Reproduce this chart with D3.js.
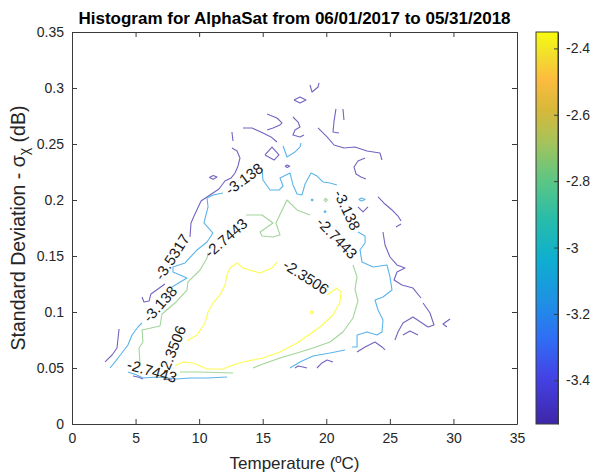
<!DOCTYPE html>
<html><head><meta charset="utf-8">
<script src="https://cdn.jsdelivr.net/npm/d3@7"></script>
<style>
html,body{margin:0;padding:0;background:#fff;}
svg{display:block;font-family:"Liberation Sans",Arial,Helvetica,sans-serif;}
</style></head><body>
<svg id="chart" width="591" height="473"></svg>
<script>
// ---------------- data ----------------
const titleText = "Histogram for AlphaSat from 06/01/2017 to 05/31/2018";
const xLabelText = "Temperature (ºC)";
const xTicks = [0, 5, 10, 15, 20, 25, 30, 35];
const yTicks = [0, 0.05, 0.1, 0.15, 0.2, 0.25, 0.3, 0.35];
const cbTicks = [-3.4, -3.2, -3, -2.8, -2.6, -2.4];
const levels = [-3.5317, -3.138, -2.7443, -2.3506];
const colorRange = [-3.5317, -2.3506];

// contour polylines [temperature, std] per level
const contour_m35317 = [
  [[2.60,0.0554],[3.15,0.0616],[3.54,0.0679],[3.70,0.0848]],
  [[5.51,0.1134],[5.66,0.1089],[6.06,0.1098],[6.21,0.1161],[6.76,0.1205],[7.31,0.1250]],
  [[9.28,0.1670],[9.36,0.1795],[9.60,0.1857],[10.15,0.1991],[10.85,0.2045],[11.56,0.2098],[12.03,0.2170],[12.51,0.2196],[12.82,0.2241],[13.06,0.2304],[13.21,0.2375],[12.98,0.2438],[12.58,0.2464]],
  [[12.58,0.2607],[12.66,0.2527]],
  [[10.80,0.2201],[11.11,0.2219],[11.40,0.2205],[11.11,0.2185],[10.80,0.2201]],
  [[13.45,0.2643],[14.16,0.2643],[15.02,0.2598],[15.65,0.2563],[16.12,0.2518]],
  [[15.34,0.2768],[16.12,0.2732],[16.52,0.2688],[16.36,0.2670],[15.81,0.2643],[15.34,0.2625]],
  [[15.18,0.2402],[15.73,0.2473],[16.28,0.2402],[15.89,0.2357],[15.18,0.2402]],
  [[16.75,0.2301],[16.93,0.2313],[17.12,0.2301],[16.93,0.2290],[16.75,0.2301]],
  [[17.38,0.2741],[17.78,0.2696],[17.93,0.2652],[17.54,0.2625],[17.38,0.2580],[17.93,0.2563],[18.25,0.2580]],
  [[17.46,0.2893],[17.93,0.2920],[18.40,0.2893],[17.93,0.2866],[17.46,0.2893]],
  [[18.72,0.3027],[18.88,0.2964],[19.35,0.3009],[19.43,0.3045]],
  [[20.76,0.2813],[20.61,0.2705],[20.53,0.2607],[21.00,0.2598]],
  [[21.31,0.2813],[21.39,0.2714]],
  [[19.35,0.2643],[20.06,0.2563],[20.61,0.2491],[21.39,0.2464],[22.26,0.2473],[23.20,0.2438],[24.22,0.2420],[24.38,0.2357]],
  [[23.05,0.2375],[22.49,0.2348],[22.18,0.2295],[22.34,0.2232],[22.73,0.2205],[23.12,0.2188]],
  [[22.49,0.1938],[22.89,0.1893],[23.28,0.1938]],
  [[24.07,0.2027],[24.62,0.1964],[25.17,0.1911],[25.64,0.1857],[25.88,0.1813]],
  [[25.48,0.1759],[25.88,0.1786]],
  [[24.46,0.1714],[24.62,0.1598],[25.01,0.1491],[25.56,0.1420],[26.19,0.1393],[25.56,0.1357],[25.33,0.1286],[25.95,0.1241],[26.82,0.1214],[27.45,0.1125]],
  [[27.61,0.1080],[28.16,0.0991],[28.47,0.0884],[28.00,0.0866],[26.82,0.0955],[26.03,0.0902],[25.64,0.0821],[25.40,0.0750]],
  [[26.03,0.0795],[26.58,0.0830],[27.21,0.0795]],
  [[29.73,0.0938],[29.18,0.0893],[29.49,0.0866]],
  [[22.42,0.0643],[23.05,0.0688],[23.83,0.0732],[24.38,0.0688],[24.62,0.0661]],
  [[19.27,0.0500],[19.66,0.0545],[20.06,0.0571],[20.53,0.0554]],
  [[17.54,0.0500],[17.78,0.0518],[18.17,0.0509],[18.48,0.0500]],
  [[4.80,0.0429],[5.19,0.0420],[5.58,0.0402]],
  [[7.16,0.0402],[7.87,0.0393]]
];
const contour_m3138 = [
  [[2.99,0.0500],[3.62,0.0589],[4.40,0.0705],[4.72,0.0795],[5.19,0.0866],[5.51,0.0902]],
  [[7.87,0.1223],[9.04,0.1304],[7.94,0.1357],[7.94,0.1402],[8.89,0.1438],[9.83,0.1554],[10.62,0.1625],[11.09,0.1705],[10.38,0.1795],[10.70,0.1938],[10.62,0.2018],[11.09,0.2045],[11.88,0.2063]],
  [[14.94,0.2277],[15.02,0.2179],[15.57,0.2089],[16.28,0.2089],[16.60,0.2125],[16.36,0.2196],[17.15,0.2241],[17.38,0.2134],[17.70,0.2054],[18.09,0.2045],[18.33,0.2143],[18.80,0.2241],[19.27,0.2214],[19.74,0.2161],[20.29,0.2152],[20.84,0.2134]],
  [[22.49,0.1714],[23.05,0.1679],[23.05,0.1616],[22.65,0.1554],[22.81,0.1446],[23.67,0.1402],[24.77,0.1420],[25.01,0.1313],[25.17,0.1196],[24.46,0.1134],[23.83,0.1107],[24.07,0.1018],[24.46,0.0929],[24.38,0.0821],[23.99,0.0795],[23.20,0.0821],[22.42,0.0795],[22.42,0.0688],[22.02,0.0688]],
  [[21.47,0.0661],[20.29,0.0634],[18.95,0.0607],[17.93,0.0554],[17.15,0.0500]],
  [[4.40,0.0464],[5.11,0.0438],[5.58,0.0411],[6.69,0.0420],[7.47,0.0411],[8.26,0.0402],[9.28,0.0411],[10.62,0.0411],[12.19,0.0420]],
  [[16.60,0.2482],[16.91,0.2384],[17.54,0.2429],[17.93,0.2473],[18.01,0.2509]],
  [[18.80,0.2000],[18.88,0.2008],[18.96,0.2000],[18.88,0.1992],[18.80,0.2000]],
  [[19.82,0.1896],[19.90,0.1904],[19.98,0.1896],[19.90,0.1888],[19.82,0.1896]],
  [[22.55,0.2004],[22.78,0.2017],[23.05,0.2004],[22.78,0.1992],[22.55,0.2004]]
];
const contour_m27443 = [
  [[5.35,0.0536],[5.27,0.0679],[5.58,0.0732],[5.51,0.0839],[6.92,0.0875],[7.08,0.0982],[8.10,0.1080],[9.04,0.1196],[9.12,0.1268],[10.07,0.1375],[10.62,0.1482],[10.70,0.1527]],
  [[13.69,0.1866],[14.94,0.1866],[15.81,0.1795],[14.79,0.1714],[14.94,0.1679],[15.81,0.1670],[16.36,0.1688],[16.04,0.1795],[16.91,0.2000],[17.70,0.1911],[18.72,0.1866]],
  [[22.10,0.1420],[22.42,0.1313],[22.26,0.1205],[22.49,0.1098],[22.10,0.0946],[21.31,0.0821],[20.29,0.0732],[18.95,0.0679],[17.70,0.0634],[16.36,0.0589],[15.02,0.0536],[14.24,0.0500]],
  [[8.49,0.0464],[10.07,0.0464],[12.66,0.0455]],
  [[19.82,0.2000],[19.95,0.2015],[20.08,0.2000],[19.95,0.1985],[19.82,0.2000]]
];
const contour_m23506 = [
  [[9.04,0.0741],[9.83,0.0795],[10.46,0.0902],[10.70,0.1000],[11.09,0.1080],[11.64,0.1152],[12.03,0.1241],[12.19,0.1330],[12.43,0.1393],[12.98,0.1438],[13.45,0.1393],[14.79,0.1348],[15.73,0.1393],[16.12,0.1446]],
  [[20.06,0.1152],[20.84,0.1214],[21.16,0.1179],[21.08,0.1089],[20.53,0.0973],[19.51,0.0866],[17.70,0.0723],[16.36,0.0643],[15.02,0.0589],[13.45,0.0554],[12.43,0.0518],[11.88,0.0491],[10.62,0.0491],[9.52,0.0545],[8.73,0.0554],[8.10,0.0518]],
  [[18.70,0.0997],[18.85,0.1012],[19.00,0.0997],[18.85,0.0982],[18.70,0.0997]]
];

// in-line contour labels
const labelLevel = [-3.138, -3.138, -2.7443, -2.7443, -3.5317, -3.138, -2.3506, -2.3506, -2.7443];
const labelT     = [13.53, 21.63, 12.11, 20.84, 7.87, 6.92, 18.40, 7.87, 6.29];
const labelS     = [0.2188, 0.1911, 0.1661, 0.1661, 0.1491, 0.1071, 0.1313, 0.0661, 0.0473];
const labelAngle = [-36, 65, -41, 46, -57, -48, 33, -68, 16];

// parula-like colormap stops
const cmapPos = [0, 0.12, 0.22, 0.32, 0.42, 0.52, 0.62, 0.72, 0.80, 0.88, 0.95, 1];
const cmapCol = ["#3e26a8","#4443e6","#2f6ff5","#1d93e2","#0eaed0","#27bcaa","#5bc685","#a6c35a","#d6b83a","#fcbc3e","#f1e32a","#f9fb0e"];

// ---------------- drawing ----------------
const svg = d3.select("#chart");
const plot = {left: 72, right: 517, top: 32, bottom: 424};
const x = d3.scaleLinear().domain([0, 35]).range([plot.left, plot.right]);
const y = d3.scaleLinear().domain([0, 0.35]).range([plot.bottom, plot.top]);
const tScale = d3.scaleLinear().domain(cmapPos).range(cmapCol).interpolate(d3.interpolateRgb);
const norm = d3.scaleLinear().domain(colorRange).range([0, 1]).clamp(true);
const cmap = v => tScale(norm(v));
const lineColor = v => d3.interpolateRgb(cmap(v), "#ffffff")(0.28);

const axisColor = "#3a3a3a";
const fontTick = 14;
const fontFam = "'Liberation Sans',Arial,Helvetica,sans-serif";

// contours
const contourSets = [contour_m35317, contour_m3138, contour_m27443, contour_m23506];
const line = d3.line().x(d => x(d[0])).y(d => y(d[1]));
const gC = svg.append("g");
contourSets.forEach((set, i) => {
  gC.selectAll(null).data(set).enter().append("path")
    .attr("d", line)
    .attr("fill", "none")
    .attr("stroke", lineColor(levels[i]))
    .attr("stroke-width", 1.1)
    .attr("stroke-linejoin", "round");
});

// contour labels
const gL = svg.append("g");
labelLevel.forEach((lv, i) => {
  gL.append("text")
    .attr("transform", `translate(${x(labelT[i])},${y(labelS[i])}) rotate(${labelAngle[i]})`)
    .attr("text-anchor", "middle")
    .attr("dy", "0.35em")
    .attr("font-size", 15)
    .attr("fill", "#1a1a1a")
    .text(String(lv));
});

// axes
const gx = svg.append("g").attr("transform", `translate(0,${plot.bottom})`)
  .call(d3.axisBottom(x).tickValues(xTicks).tickSize(-5).tickSizeOuter(0).tickPadding(9).tickFormat(d => String(d)));
const gxt = svg.append("g").attr("transform", `translate(0,${plot.top})`)
  .call(d3.axisTop(x).tickValues(xTicks).tickSize(-5).tickSizeOuter(0).tickFormat(""));
const gy = svg.append("g").attr("transform", `translate(${plot.left},0)`)
  .call(d3.axisLeft(y).tickValues(yTicks).tickSize(-5).tickSizeOuter(0).tickPadding(8).tickFormat(d => String(d)));
const gyr = svg.append("g").attr("transform", `translate(${plot.right},0)`)
  .call(d3.axisRight(y).tickValues(yTicks).tickSize(-5).tickSizeOuter(0).tickFormat(""));
[gx, gxt, gy, gyr].forEach(g => {
  g.select(".domain").attr("stroke", axisColor);
  g.selectAll(".tick line").attr("stroke", axisColor);
  g.selectAll(".tick text").attr("fill", "#262626").attr("font-size", fontTick).attr("font-family", fontFam);
});

// colorbar
const cb = {left: 536, right: 558, top: 32, bottom: 424};
const cy = d3.scaleLinear().domain(colorRange).range([cb.bottom, cb.top]);
const defs = svg.append("defs");
const grad = defs.append("linearGradient").attr("id", "parula")
  .attr("x1", 0).attr("y1", 1).attr("x2", 0).attr("y2", 0);
d3.range(0, 1.0001, 0.02).forEach(t => {
  grad.append("stop").attr("offset", t).attr("stop-color", tScale(t));
});
svg.append("rect").attr("x", cb.left).attr("y", cb.top)
  .attr("width", cb.right - cb.left).attr("height", cb.bottom - cb.top)
  .attr("fill", "url(#parula)").attr("stroke", axisColor).attr("stroke-width", 1);
const gcb = svg.append("g").attr("transform", `translate(${cb.right},0)`)
  .call(d3.axisRight(cy).tickValues(cbTicks).tickSize(-4).tickSizeOuter(0).tickPadding(8).tickFormat(d => String(d)));
gcb.select(".domain").attr("stroke", axisColor);
gcb.selectAll(".tick line").attr("stroke", axisColor);
gcb.selectAll(".tick text").attr("fill", "#262626").attr("font-size", fontTick).attr("font-family", fontFam);

// title & labels
svg.append("text").attr("x", (plot.left + plot.right) / 2).attr("y", 24)
  .attr("text-anchor", "middle").attr("font-weight", "bold").attr("font-size", 17)
  .attr("fill", "#000").text(titleText);
svg.append("text").attr("x", (plot.left + plot.right) / 2).attr("y", 469)
  .attr("text-anchor", "middle").attr("font-size", 17).attr("fill", "#262626").text(xLabelText);
const yl = svg.append("text")
  .attr("transform", `translate(25,${(plot.top + plot.bottom) / 2}) rotate(-90)`)
  .attr("text-anchor", "middle").attr("font-size", 19.5).attr("fill", "#262626");
yl.append("tspan").text("Standard Deviation - σ");
yl.append("tspan").attr("font-size", 14).attr("dy", 4).text("χ");
yl.append("tspan").attr("dy", -4).text(" (dB)");
</script>
</body></html>
